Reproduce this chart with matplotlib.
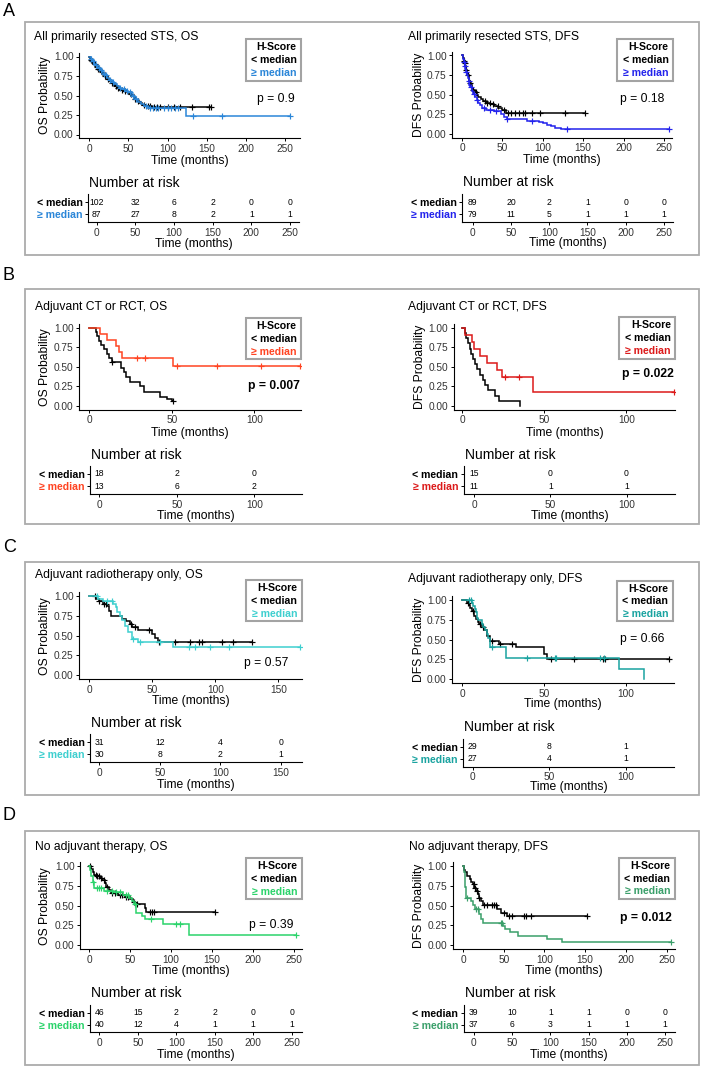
import numpy as np
import matplotlib
matplotlib.use("Agg")
import matplotlib.pyplot as plt
from matplotlib.patches import Rectangle

plt.rcParams['font.family'] = ['Liberation Sans', 'DejaVu Sans']

W, H = 704, 1068

# ------------------------------------------------------------------ data
GROUPS = ["< median", "≥ median"]
LEGEND_TITLE = "H-Score"
PANEL_LETTERS = ["A", "B", "C", "D"]

# --- A: all primarily resected STS
A_OS_TITLE = "All primarily resected STS, OS"
A_OS_P = "p = 0.9"
A_OS_LO_T = [0, 1, 2, 3, 5, 6, 8, 9, 11, 13, 15, 17, 19, 21, 23, 26, 28, 30, 33, 36, 38, 40, 44, 48, 51, 54, 57, 60, 64, 68, 72, 80]
A_OS_LO_S = [1.0, 0.98, 0.96, 0.94, 0.92, 0.90, 0.88, 0.86, 0.84, 0.82, 0.80, 0.78, 0.75, 0.73, 0.71, 0.68, 0.66, 0.64, 0.62, 0.60, 0.58, 0.57, 0.56, 0.54, 0.52, 0.49, 0.46, 0.43, 0.40, 0.38, 0.36, 0.35]
A_OS_LO_C = [2, 4, 7, 10, 12, 16, 20, 24, 29, 34, 37, 42, 46, 53, 58, 62, 70, 75, 78, 83, 86, 90, 100, 108, 116, 131, 153, 156]
A_OS_HI_T = [0, 2, 4, 6, 8, 10, 12, 14, 16, 18, 20, 23, 26, 29, 32, 35, 38, 42, 46, 50, 55, 58, 62, 66, 70, 75, 123]
A_OS_HI_S = [1.0, 0.97, 0.94, 0.91, 0.89, 0.87, 0.85, 0.83, 0.81, 0.78, 0.76, 0.73, 0.70, 0.67, 0.65, 0.62, 0.60, 0.58, 0.56, 0.55, 0.50, 0.46, 0.42, 0.39, 0.36, 0.335, 0.243]
A_OS_HI_C = [3, 5, 9, 13, 15, 19, 22, 27, 31, 40, 44, 48, 52, 56, 60, 72, 78, 82, 85, 88, 95, 100, 105, 110, 113, 133, 169, 256]
A_OS_RISK_LO = [102, 32, 6, 2, 0, 0]
A_OS_RISK_HI = [87, 27, 8, 2, 1, 1]

A_DFS_TITLE = "All primarily resected STS, DFS"
A_DFS_P = "p = 0.18"
A_DFS_LO_T = [0, 1, 2, 3, 4, 5, 6, 7, 8, 9, 10, 11, 12, 14, 16, 18, 20, 23, 26, 30, 35, 40, 45, 50, 55]
A_DFS_LO_S = [1.0, 0.97, 0.93, 0.90, 0.86, 0.82, 0.78, 0.75, 0.71, 0.68, 0.65, 0.62, 0.59, 0.56, 0.53, 0.50, 0.47, 0.44, 0.42, 0.40, 0.38, 0.36, 0.33, 0.30, 0.273]
A_DFS_LO_C = [2, 3, 5, 7, 10, 14, 17, 28, 31, 34, 38, 44, 52, 57, 60, 65, 70, 76, 78, 86, 97, 128, 152]
A_DFS_HI_T = [0, 1, 2, 3, 4, 5, 6, 7, 8, 9, 10, 12, 14, 16, 18, 20, 22, 25, 30, 40, 48, 52, 56, 80, 95, 100, 105, 110, 115, 122]
A_DFS_HI_S = [1.0, 0.96, 0.92, 0.87, 0.83, 0.79, 0.75, 0.71, 0.67, 0.63, 0.60, 0.55, 0.51, 0.47, 0.43, 0.40, 0.37, 0.33, 0.31, 0.29, 0.25, 0.22, 0.19, 0.17, 0.15, 0.14, 0.12, 0.10, 0.08, 0.063]
A_DFS_HI_C = [2, 3, 5, 8, 11, 15, 19, 27, 35, 42, 56, 86, 130, 256]
A_DFS_RISK_LO = [89, 20, 2, 1, 0, 0]
A_DFS_RISK_HI = [79, 11, 5, 1, 1, 1]

A_RISK_TIMES = [0, 50, 100, 150, 200, 250]

# --- B: adjuvant CT or RCT
B_OS_TITLE = "Adjuvant CT or RCT, OS"
B_OS_P = "p = 0.007"
B_OS_LO_T = [0, 4, 5, 6, 7, 9, 10.5, 12, 13.5, 19.5, 21, 22.5, 24.5, 30.5, 33, 43, 47, 50]
B_OS_LO_S = [1.0, 0.944, 0.889, 0.833, 0.778, 0.722, 0.667, 0.611, 0.556, 0.49, 0.43, 0.37, 0.31, 0.25, 0.185, 0.12, 0.09, 0.06]
B_OS_LO_C = [14, 51]
B_OS_HI_T = [0, 6.5, 11, 16.5, 18.2, 20, 51]
B_OS_HI_S = [1.0, 0.923, 0.846, 0.769, 0.692, 0.615, 0.513]
B_OS_HI_C = [28.7, 34, 53, 77.5, 104, 127.7]
B_OS_RISK_LO = [18, 2, 0]
B_OS_RISK_HI = [13, 6, 2]

B_DFS_TITLE = "Adjuvant CT or RCT, DFS"
B_DFS_P = "p = 0.022"
B_DFS_LO_T = [0, 1.5, 2.5, 3.5, 4.5, 5.5, 6.5, 7.5, 9, 11, 12.5, 14, 16, 20, 22.5, 35]
B_DFS_LO_S = [1.0, 0.933, 0.867, 0.8, 0.733, 0.667, 0.6, 0.533, 0.467, 0.4, 0.333, 0.267, 0.2, 0.133, 0.067, 0.0]
B_DFS_LO_C = []
B_DFS_HI_T = [0, 1.6, 5.8, 7.2, 10.9, 15, 21, 24.3, 43.4]
B_DFS_HI_S = [1.0, 0.909, 0.818, 0.727, 0.636, 0.545, 0.455, 0.364, 0.182]
B_DFS_HI_C = [26.3, 34.6, 129]
B_DFS_RISK_LO = [15, 0, 0]
B_DFS_RISK_HI = [11, 1, 1]

B_RISK_TIMES = [0, 50, 100]

# --- C: adjuvant radiotherapy only
C_OS_TITLE = "Adjuvant radiotherapy only, OS"
C_OS_P = "p = 0.57"
C_OS_LO_T = [0, 5.5, 7.5, 11, 14, 16, 17.5, 26, 29, 32, 34, 39, 50, 52, 54.5]
C_OS_LO_S = [1.0, 0.967, 0.935, 0.903, 0.87, 0.81, 0.745, 0.712, 0.68, 0.645, 0.612, 0.575, 0.52, 0.47, 0.414]
C_OS_LO_C = [4.5, 8, 12, 13, 33, 36, 47, 55, 68, 80, 87, 89, 105, 114, 129]
C_OS_HI_T = [0, 7, 11, 19, 21, 22, 24, 26, 28, 31, 34, 39, 66]
C_OS_HI_S = [1.0, 0.967, 0.933, 0.895, 0.858, 0.80, 0.75, 0.70, 0.62, 0.54, 0.46, 0.415, 0.353]
C_OS_HI_C = [6, 14, 17.7, 35, 40, 56, 79, 84, 96, 111, 167]
C_OS_RISK_LO = [31, 12, 4, 0]
C_OS_RISK_HI = [30, 8, 2, 1]
C_OS_RISK_TIMES = [0, 50, 100, 150]

C_DFS_TITLE = "Adjuvant radiotherapy only, DFS"
C_DFS_P = "p = 0.66"
C_DFS_LO_T = [0, 3, 4, 5, 6, 7.5, 8.5, 9.5, 10.5, 12, 13.5, 15, 17, 22.4, 33, 50, 51.5]
C_DFS_LO_S = [1.0, 0.966, 0.931, 0.897, 0.862, 0.80, 0.76, 0.72, 0.69, 0.655, 0.62, 0.55, 0.48, 0.44, 0.40, 0.32, 0.25]
C_DFS_LO_C = [3.5, 6.5, 11, 13, 18, 23.4, 30.5, 54.5, 68, 86, 87, 126]
C_DFS_HI_T = [0, 6, 7, 8, 8.5, 9, 10, 12, 13, 14, 15, 16, 17, 27, 95.5, 111]
C_DFS_HI_S = [1.0, 0.963, 0.926, 0.889, 0.852, 0.778, 0.741, 0.70, 0.66, 0.62, 0.57, 0.52, 0.41, 0.26, 0.13, 0.0]
C_DFS_HI_C = [4.5, 5.5, 18.3, 39.6, 56.5, 57.3, 84.3, 86.8]
C_DFS_RISK_LO = [29, 8, 1]
C_DFS_RISK_HI = [27, 4, 1]
C_DFS_RISK_TIMES = [0, 50, 100]

# --- D: no adjuvant therapy
D_OS_TITLE = "No adjuvant therapy, OS"
D_OS_P = "p = 0.39"
D_OS_LO_T = [0, 2, 4, 6, 9, 13, 16, 19, 21, 24, 26, 35, 44, 50, 53, 56, 68, 70]
D_OS_LO_S = [1.0, 0.956, 0.93, 0.89, 0.87, 0.85, 0.82, 0.78, 0.74, 0.70, 0.66, 0.63, 0.61, 0.58, 0.55, 0.52, 0.475, 0.42]
D_OS_LO_C = [1, 8, 10, 12, 14, 18, 22, 28, 31, 38, 40, 45, 47, 55, 58, 74, 77, 79, 154]
D_OS_HI_T = [0, 1, 2, 4, 6, 18, 30, 41, 48, 52, 55, 57, 65, 68, 90, 122]
D_OS_HI_S = [1.0, 0.95, 0.875, 0.80, 0.72, 0.69, 0.67, 0.64, 0.60, 0.56, 0.52, 0.41, 0.37, 0.33, 0.27, 0.135]
D_OS_HI_C = [5, 9, 12, 14, 22, 28, 33, 37, 45, 47, 56, 75, 106, 111, 253]
D_OS_RISK_LO = [46, 15, 2, 2, 0, 0]
D_OS_RISK_HI = [40, 12, 4, 1, 1, 1]

D_DFS_TITLE = "No adjuvant therapy, DFS"
D_DFS_P = "p = 0.012"
D_DFS_LO_T = [0, 1, 3, 5, 8, 10, 12, 14, 16, 18, 20, 22, 25, 42, 47, 54]
D_DFS_LO_S = [1.0, 0.95, 0.92, 0.87, 0.84, 0.80, 0.77, 0.72, 0.68, 0.64, 0.60, 0.56, 0.51, 0.46, 0.41, 0.372]
D_DFS_LO_C = [13, 15, 17, 20, 26, 30, 35, 38, 40, 50, 56, 60, 75, 77, 83, 152]
D_DFS_HI_T = [0, 1, 2, 3, 4, 10, 12, 15, 20, 22, 25, 49, 51, 58, 68, 103, 122]
D_DFS_HI_S = [1.0, 0.92, 0.84, 0.73, 0.595, 0.555, 0.51, 0.46, 0.39, 0.33, 0.275, 0.24, 0.20, 0.16, 0.12, 0.08, 0.04]
D_DFS_HI_C = [5, 16, 18, 47, 48, 256]
D_DFS_RISK_LO = [39, 10, 1, 1, 0, 0]
D_DFS_RISK_HI = [37, 6, 3, 1, 1, 1]

D_RISK_TIMES = [0, 50, 100, 150, 200, 250]

# colours of the "≥ median" group in each sub-plot
COL_A_OS, COL_A_DFS = "#2B86D8", "#2323EC"
COL_B_OS, COL_B_DFS = "#FF4422", "#DC1A1A"
COL_C_OS, COL_C_DFS = "#3ECFCF", "#1AA3A0"
COL_D_OS, COL_D_DFS = "#2BD36B", "#3A9F6A"
COL_LO = "black"

# ------------------------------------------------------------------ figure
fig = plt.figure(figsize=(W / 100, H / 100), dpi=100)
fig.patch.set_facecolor("white")

TXT = 8.7
TICK = 7.3
TICKCOL = "#333333"


def fx(x):
    return x / W


def fy(y):
    return 1 - y / H


def add_ax(l, t, r, b):
    return fig.add_axes([fx(l), fy(b), (r - l) / W, (b - t) / H])


def step_at(T, S, t):
    idx = np.searchsorted(np.asarray(T, float), np.asarray(t, float), side="right") - 1
    return np.asarray(S, float)[idx]


def style_axes(ax):
    for s in ("top", "right"):
        ax.spines[s].set_visible(False)
    for s in ("left", "bottom"):
        ax.spines[s].set_linewidth(0.8)
        ax.spines[s].set_color("black")
    ax.tick_params(length=2.5, width=0.7, labelsize=TICK, labelcolor=TICKCOL, pad=1.5)
    ax.patch.set_alpha(0)


def draw_curve(ax, T, S, C, col):
    tend = max([T[-1]] + list(C))
    ax.step(list(T) + [tend], list(S) + [S[-1]], where="post", color=col, lw=1.1,
            solid_joinstyle="miter")
    if len(C):
        ax.plot(C, step_at(T, S, C), "+", color=col, ms=4.4, mew=0.85, ls="none")


def draw_panel(P):
    L = P["L"]
    kl, kr, y1, y0 = L["km"]
    span = y0 - y1
    ax = add_ax(kl, y1 - 0.05 * span, kr, y0 + 0.05 * span)
    style_axes(ax)
    ax.set_ylim(-0.05, 1.05)
    ax.set_xlim(*L["xlim"])
    ax.set_yticks([0, 0.25, 0.5, 0.75, 1.0])
    ax.set_yticklabels(["0.00", "0.25", "0.50", "0.75", "1.00"])
    ax.set_xticks(P["xticks"])
    lo, hi = P["lo"], P["hi"]
    draw_curve(ax, *lo, COL_LO)
    draw_curve(ax, *hi, P["col"])
    # labels
    fig.text(fx(L["ylab_x"]), fy((y1 + y0) / 2), P["ylabel"], rotation=90,
             ha="center", va="center", fontsize=TXT)
    fig.text(fx((kl + kr) / 2), fy(L["xlab_y"]), "Time (months)",
             ha="center", va="center", fontsize=TXT)
    fig.text(fx(L["title"][0]), fy(L["title"][1]), P["title"], ha="left", va="center",
             fontsize=TXT)
    # legend box
    gl, gt, gr, gb = L["leg"]
    fig.patches.append(Rectangle((fx(gl), fy(gb)), (gr - gl) / W, (gb - gt) / H,
                                 transform=fig.transFigure, facecolor="white",
                                 edgecolor="#A3A3A3", lw=1.5, zorder=5))
    for k, (txt, c) in enumerate([(LEGEND_TITLE, "black"), (GROUPS[0], COL_LO),
                                  (GROUPS[1], P["col"])]):
        fig.text(fx(gr - 4.5), fy(gt + 8 + 12.8 * k), txt, ha="right", va="center",
                 fontsize=7.6, fontweight="bold", color=c, zorder=6)
    # p value
    fig.text(fx(L["pxy"][0]), fy(L["pxy"][1]), P["p"], ha="right", va="center",
             fontsize=TXT, fontweight="bold" if P["pbold"] else "normal")
    # risk table
    rl, rr, r1, r2, rb = L["risk"]
    gap = r2 - r1
    ax2 = add_ax(rl, r1 - 0.65 * gap, rr, rb)
    style_axes(ax2)
    ax2.set_ylim(0.35, 2.65)
    ax2.set_xlim(*L["rxlim"])
    ax2.set_xticks(P["risk_t"])
    ax2.set_yticks([2, 1])
    ax2.set_yticklabels(GROUPS)
    for lab, c in zip(ax2.get_yticklabels(), [COL_LO, P["col"]]):
        lab.set_color(c)
        lab.set_fontweight("bold")
        lab.set_fontsize(7.6)
    for t, n in zip(P["risk_t"], P["risk_lo"]):
        ax2.text(t, 2, str(n), ha="center", va="center", fontsize=6.2)
    for t, n in zip(P["risk_t"], P["risk_hi"]):
        ax2.text(t, 1, str(n), ha="center", va="center", fontsize=6.2)
    fig.text(fx((rl + rr) / 2), fy(L["rlab_y"]), "Time (months)", ha="center",
             va="center", fontsize=TXT)
    fig.text(fx(L["nar"][0]), fy(L["nar"][1]), "Number at risk", ha="left",
             va="center", fontsize=10)


PANELS = [
    dict(title=A_OS_TITLE, ylabel="OS Probability", p=A_OS_P, pbold=False, col=COL_A_OS,
         lo=(A_OS_LO_T, A_OS_LO_S, A_OS_LO_C), hi=(A_OS_HI_T, A_OS_HI_S, A_OS_HI_C),
         xticks=A_RISK_TIMES, risk_t=A_RISK_TIMES, risk_lo=A_OS_RISK_LO, risk_hi=A_OS_RISK_HI,
         L=dict(km=(79, 300, 56.5, 134.5), xlim=(-12.8, 268.8), title=(34, 37),
                leg=(246, 39, 301, 81), pxy=(295, 99), ylab_x=45, xlab_y=161,
                risk=(88, 299, 202, 214, 222), rxlim=(-11.3, 261.6), rlab_y=244,
                nar=(89, 183))),
    dict(title=A_DFS_TITLE, ylabel="DFS Probability", p=A_DFS_P, pbold=False, col=COL_A_DFS,
         lo=(A_DFS_LO_T, A_DFS_LO_S, A_DFS_LO_C), hi=(A_DFS_HI_T, A_DFS_HI_S, A_DFS_HI_C),
         xticks=A_RISK_TIMES, risk_t=A_RISK_TIMES, risk_lo=A_DFS_RISK_LO, risk_hi=A_DFS_RISK_HI,
         L=dict(km=(452, 672, 55.5, 134), xlim=(-12.5, 260), title=(408, 37),
                leg=(617, 39, 673, 81), pxy=(664.3, 99), ylab_x=418.7, xlab_y=160.5,
                risk=(462, 672.7, 202, 214, 222), rxlim=(-14, 261.4), rlab_y=243.3,
                nar=(463, 182))),
    dict(title=B_OS_TITLE, ylabel="OS Probability", p=B_OS_P, pbold=True, col=COL_B_OS,
         lo=(B_OS_LO_T, B_OS_LO_S, B_OS_LO_C), hi=(B_OS_HI_T, B_OS_HI_S, B_OS_HI_C),
         xticks=B_RISK_TIMES, risk_t=B_RISK_TIMES, risk_lo=B_OS_RISK_LO, risk_hi=B_OS_RISK_HI,
         L=dict(km=(79, 301, 327.7, 406), xlim=(-6.2, 128.3), title=(35, 306.7),
                leg=(246, 318, 301, 359), pxy=(300, 385.7), ylab_x=45, xlab_y=432.7,
                risk=(90, 301.7, 474.3, 487.3, 494.3), rxlim=(-6.0, 130.6), rlab_y=516,
                nar=(90.7, 455))),
    dict(title=B_DFS_TITLE, ylabel="DFS Probability", p=B_DFS_P, pbold=True, col=COL_B_DFS,
         lo=(B_DFS_LO_T, B_DFS_LO_S, B_DFS_LO_C), hi=(B_DFS_HI_T, B_DFS_HI_S, B_DFS_HI_C),
         xticks=B_RISK_TIMES, risk_t=B_RISK_TIMES, risk_lo=B_DFS_RISK_LO, risk_hi=B_DFS_RISK_HI,
         L=dict(km=(453.7, 675.3, 327.7, 406), xlim=(-5.2, 129.9), title=(408, 306.7),
                leg=(618.7, 317, 675.3, 359), pxy=(673.7, 374.3), ylab_x=419.7, xlab_y=432.7,
                risk=(463.7, 675, 474.3, 487.3, 494.3), rxlim=(-6.8, 131.8), rlab_y=516,
                nar=(465.3, 455))),
    dict(title=C_OS_TITLE, ylabel="OS Probability", p=C_OS_P, pbold=False, col=COL_C_OS,
         lo=(C_OS_LO_T, C_OS_LO_S, C_OS_LO_C), hi=(C_OS_HI_T, C_OS_HI_S, C_OS_HI_C),
         xticks=C_OS_RISK_TIMES, risk_t=C_OS_RISK_TIMES, risk_lo=C_OS_RISK_LO, risk_hi=C_OS_RISK_HI,
         L=dict(km=(79, 301.7, 596, 675.3), xlim=(-8.2, 168.5), title=(35, 575),
                leg=(246, 580, 301.7, 621), pxy=(288.7, 662.7), ylab_x=45, xlab_y=701,
                risk=(90, 301.7, 742.3, 755, 762.3), rxlim=(-7.7, 167.3), rlab_y=785,
                nar=(90.7, 722.7))),
    dict(title=C_DFS_TITLE, ylabel="DFS Probability", p=C_DFS_P, pbold=False, col=COL_C_DFS,
         lo=(C_DFS_LO_T, C_DFS_LO_S, C_DFS_LO_C), hi=(C_DFS_HI_T, C_DFS_HI_S, C_DFS_HI_C),
         xticks=C_DFS_RISK_TIMES, risk_t=C_DFS_RISK_TIMES, risk_lo=C_DFS_RISK_LO, risk_hi=C_DFS_RISK_HI,
         L=dict(km=(452, 673.7, 600, 679), xlim=(-6.1, 129), title=(408, 579.3),
                leg=(617, 580.7, 672.7, 621), pxy=(664.3, 639.3), ylab_x=418.7, xlab_y=704.3,
                risk=(463, 673.7, 746.7, 758.3, 766.7), rxlim=(-6.3, 131.1), rlab_y=787,
                nar=(463.7, 726.7))),
    dict(title=D_OS_TITLE, ylabel="OS Probability", p=D_OS_P, pbold=False, col=COL_D_OS,
         lo=(D_OS_LO_T, D_OS_LO_S, D_OS_LO_C), hi=(D_OS_HI_T, D_OS_HI_S, D_OS_HI_C),
         xticks=D_RISK_TIMES, risk_t=D_RISK_TIMES, risk_lo=D_OS_RISK_LO, risk_hi=D_OS_RISK_HI,
         L=dict(km=(80, 301.7, 866, 945.3), xlim=(-11.4, 260), title=(35, 846.7),
                leg=(246, 858.3, 301.7, 899.3), pxy=(293.3, 925), ylab_x=45, xlab_y=971,
                risk=(90, 301.7, 1012.7, 1025, 1032.3), rxlim=(-12.1, 263), rlab_y=1055,
                nar=(90.7, 992.7))),
    dict(title=D_DFS_TITLE, ylabel="DFS Probability", p=D_DFS_P, pbold=True, col=COL_D_DFS,
         lo=(D_DFS_LO_T, D_DFS_LO_S, D_DFS_LO_C), hi=(D_DFS_HI_T, D_DFS_HI_S, D_DFS_HI_C),
         xticks=D_RISK_TIMES, risk_t=D_RISK_TIMES, risk_lo=D_DFS_RISK_LO, risk_hi=D_DFS_RISK_HI,
         L=dict(km=(452.7, 674.7, 866, 945), xlim=(-12.7, 260), title=(408.7, 846.7),
                leg=(618.7, 857.7, 674.7, 899), pxy=(672, 918.3), ylab_x=419, xlab_y=971,
                risk=(463.7, 674.7, 1013.3, 1025.7, 1032.3), rxlim=(-13.2, 262.5), rlab_y=1055,
                nar=(464.7, 993.3))),
]

# panel frames and letters
FRAMES = [(25, 22, 699, 255), (25, 289, 699, 524), (25, 562, 699, 795), (25, 831, 699, 1065)]
LETTER_Y = [11, 275, 548, 815]
for (l, t, r, b), letter, ly in zip(FRAMES, PANEL_LETTERS, LETTER_Y):
    fig.patches.append(Rectangle((fx(l), fy(b)), (r - l) / W, (b - t) / H,
                                 transform=fig.transFigure, facecolor="none",
                                 edgecolor="#ABABAB", lw=1.3, zorder=0))
    fig.text(fx(3), fy(ly), letter, ha="left", va="center", fontsize=13)

for P in PANELS:
    draw_panel(P)

fig.savefig("out.png", dpi=100)
